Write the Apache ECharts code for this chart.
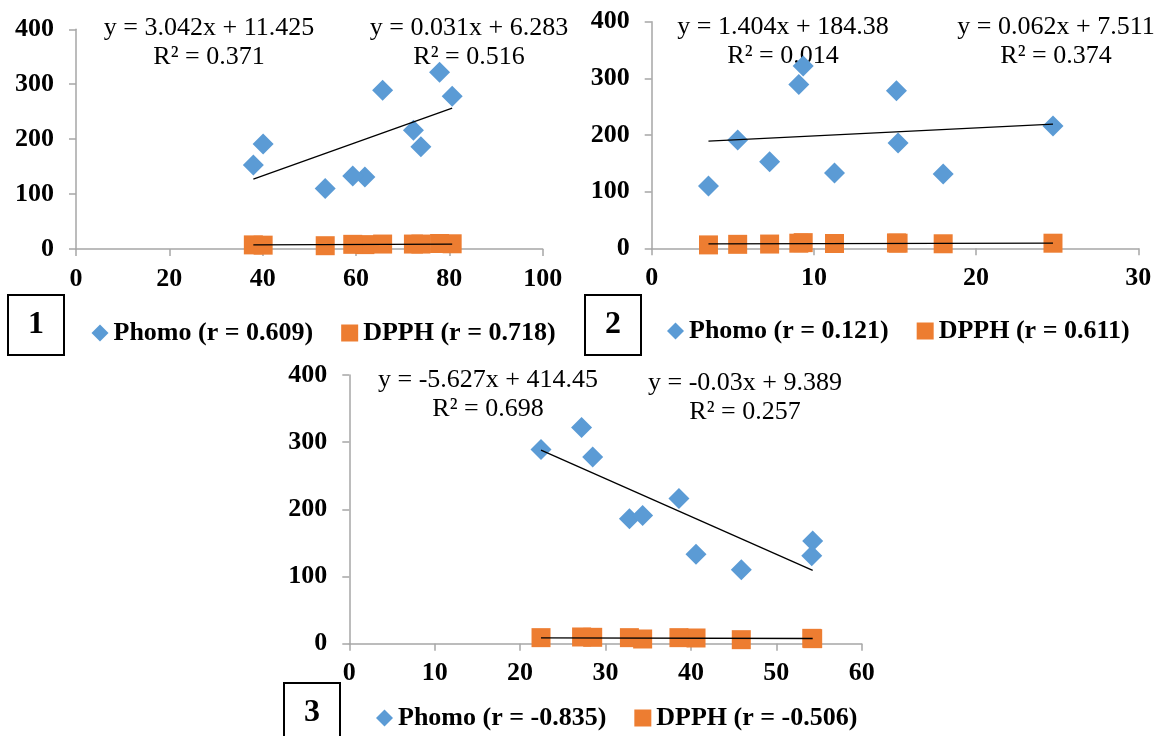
<!DOCTYPE html>
<html>
<head>
<meta charset="utf-8">
<title>Phomo / DPPH correlations</title>
<script src="https://cdn.jsdelivr.net/npm/echarts@6/dist/echarts.min.js"></script>
<style>
  html, body { margin: 0; padding: 0; background: #fff; }
  #chart { width: 1165px; height: 736px; }
</style>
</head>
<body>
<div id="chart"></div>
<script>
// 10 samples, same order in every panel
const phomo = [110, 131, 133, 153, 186, 191, 216, 278, 289, 322];
const dpph = [6.0, 8.0, 8.5, 7.5, 9.0, 7.0, 9.0, 9.5, 9.0, 10.0];

// x variable of each panel
const x1 = [53.4, 61.9, 59.3, 38.0, 73.9, 40.1, 72.3, 80.6, 65.7, 77.9];
const x2 = [3.5, 17.97, 11.27, 7.27, 15.19, 5.3, 24.74, 15.09, 9.07, 9.34];
const x3 = [45.9, 54.15, 40.6, 54.26, 32.8, 34.35, 38.6, 28.5, 22.45, 27.2];
const xValues = [x1, x2, x3];

const xMax = [100, 30, 60];
const xStep = [20, 10, 10];
const yTicks = [0, 100, 200, 300, 400];

const phomoNames = ['Phomo (r = 0.609)', 'Phomo (r = 0.121)', 'Phomo (r = -0.835)'];
const dpphNames = ['DPPH (r = 0.718)', 'DPPH (r = 0.611)', 'DPPH (r = -0.506)'];
const panelLabels = ['1', '2', '3'];

// trendline coefficients [slope, intercept] as printed on the chart
const trendPhomo = [[3.042, 11.425], [1.404, 184.38], [-5.627, 414.45]];
const trendDpph = [[0.031, 6.283], [0.062, 7.511], [-0.03, 9.389]];
const eqPhomo = ['y = 3.042x + 11.425\nR² = 0.371', 'y = 1.404x + 184.38\nR² = 0.014', 'y = -5.627x + 414.45\nR² = 0.698'];
const eqDpph = ['y = 0.031x + 6.283\nR² = 0.516', 'y = 0.062x + 7.511\nR² = 0.374', 'y = -0.03x + 9.389\nR² = 0.257'];

// layout of the three panels
const grids = [
  { left: 76, top: 29.3, width: 466.7, height: 219.7 },
  { left: 651.7, top: 21.7, width: 486.6, height: 226.6 },
  { left: 349.3, top: 375, width: 512.4, height: 268.7 }
];
const legendPos = [{ left: 91.5, top: 320 }, { left: 667, top: 318 }, { left: 376, top: 705 }];
const boxPos = [{ x: 8, y: 295 }, { x: 585, y: 295 }, { x: 284, y: 683 }];
const eqPhomoPos = [[209, 42.5], [783, 41.5], [488, 395]];
const eqDpphPos = [[469, 42.5], [1056, 41.8], [745, 397.8]];

const FONT = '"Liberation Serif", "Times New Roman", serif';
const BLUE = '#5B9BD5';
const ORANGE = '#ED7D31';
const AXIS = '#a6a6a6';

function trendLine(xs, coef) {
  const lo = Math.min(...xs), hi = Math.max(...xs);
  return [[lo, coef[0] * lo + coef[1]], [hi, coef[0] * hi + coef[1]]];
}

const xAxis = [], yAxis = [], series = [], legend = [], graphic = [];

for (let i = 0; i < 3; i++) {
  xAxis.push({
    type: 'value', gridIndex: i, min: 0, max: xMax[i], interval: xStep[i],
    axisLine: { onZero: false, lineStyle: { color: AXIS, width: 1.5 } },
    axisTick: { show: true, length: 7, lineStyle: { color: AXIS, width: 1.5 } },
    splitLine: { show: false },
    axisLabel: { margin: 17, color: '#000', fontSize: 26, fontWeight: 'bold', fontFamily: FONT }
  });
  yAxis.push({
    type: 'value', gridIndex: i, min: yTicks[0], max: yTicks[yTicks.length - 1], interval: 100,
    axisLine: { show: true, lineStyle: { color: AXIS, width: 1.5 } },
    axisTick: { show: true, length: 7, lineStyle: { color: AXIS, width: 1.5 } },
    splitLine: { show: false },
    axisLabel: { margin: 22, color: '#000', fontSize: 26, fontWeight: 'bold', fontFamily: FONT }
  });

  const xs = xValues[i];
  series.push({
    name: phomoNames[i], type: 'scatter', xAxisIndex: i, yAxisIndex: i,
    symbol: 'diamond', symbolSize: 21, itemStyle: { color: BLUE, opacity: 1 },
    data: xs.map((x, k) => [x, phomo[k]]), z: 2
  });
  series.push({
    name: dpphNames[i], type: 'scatter', xAxisIndex: i, yAxisIndex: i,
    symbol: 'rect', symbolSize: 19, itemStyle: { color: ORANGE, opacity: 1 },
    data: xs.map((x, k) => [x, dpph[k]]), z: 2
  });
  series.push({
    type: 'line', xAxisIndex: i, yAxisIndex: i, silent: true, showSymbol: false, symbol: 'none',
    lineStyle: { color: '#000', width: 1.3 }, data: trendLine(xs, trendPhomo[i]), z: 3
  });
  series.push({
    type: 'line', xAxisIndex: i, yAxisIndex: i, silent: true, showSymbol: false, symbol: 'none',
    lineStyle: { color: '#000', width: 1.3 }, data: trendLine(xs, trendDpph[i]), z: 3
  });

  legend.push({
    left: legendPos[i].left, top: legendPos[i].top, padding: 0, itemGap: 28,
    itemWidth: 17, itemHeight: 17, selectedMode: false,
    textStyle: { color: '#000', fontSize: 26, fontWeight: 'bold', fontFamily: FONT },
    data: [{ name: phomoNames[i], icon: 'diamond' }, { name: dpphNames[i], icon: 'rect' }]
  });

  graphic.push({
    type: 'rect', shape: { x: boxPos[i].x, y: boxPos[i].y, width: 56, height: 60 },
    style: { fill: '#fff', stroke: '#000', lineWidth: 2 }
  });
  graphic.push({
    type: 'text', x: boxPos[i].x + 28, y: boxPos[i].y + 30,
    style: { text: panelLabels[i], fill: '#000', font: 'bold 32px ' + FONT, textAlign: 'center', textVerticalAlign: 'middle' }
  });
  graphic.push({
    type: 'text', x: eqPhomoPos[i][0], y: eqPhomoPos[i][1],
    style: { text: eqPhomo[i], fill: '#000', font: '26px ' + FONT, lineHeight: 29, textAlign: 'center', textVerticalAlign: 'middle' }
  });
  graphic.push({
    type: 'text', x: eqDpphPos[i][0], y: eqDpphPos[i][1],
    style: { text: eqDpph[i], fill: '#000', font: '26px ' + FONT, lineHeight: 29, textAlign: 'center', textVerticalAlign: 'middle' }
  });
}

const chart = echarts.init(document.getElementById('chart'), null, { renderer: 'canvas' });
chart.setOption({
  animation: false,
  backgroundColor: '#fff',
  textStyle: { fontFamily: FONT },
  grid: grids,
  xAxis: xAxis,
  yAxis: yAxis,
  legend: legend,
  series: series,
  graphic: graphic
});
window.addEventListener('resize', () => chart.resize());
</script>
</body>
</html>
